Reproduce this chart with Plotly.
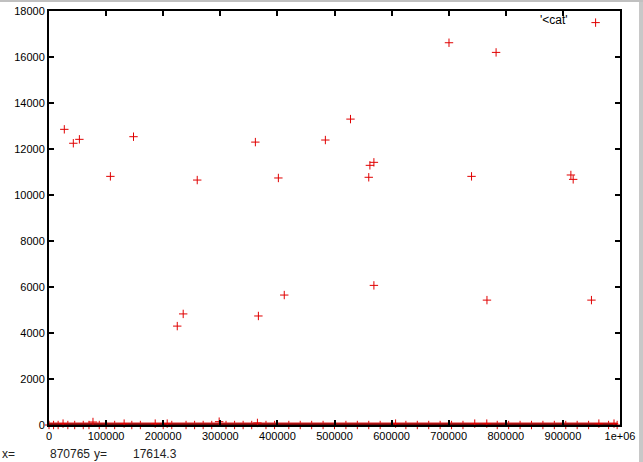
import plotly.graph_objects as go

# nonzero samples
x_vals = [26800, 42600, 53200, 107500, 148000, 77000, 224600, 235000, 259600,
          298000, 361400, 365000, 366700, 401700, 412000, 484000, 528000,
          560000, 562000, 569000, 569000, 700500, 740000, 767000, 783000,
          914000, 918000, 950000,
          24600, 131600, 186000, 207000, 607000, 745600, 766700, 963000, 989500]
y_vals = [12855, 12250, 12420, 10810, 12535, 130, 4300, 4830, 10650,
          145, 12300, 90, 4740, 10740, 5650, 12390, 13300,
          10770, 11290, 11420, 6070, 16620, 10810, 5430, 16200,
          10870, 10680, 5430,
          60, 60, 60, 60, 60, 60, 60, 60, 60]

# samples lying on zero (dense band along the x axis)
zero_x = [0, 8000, 16000, 33000, 45000, 60000, 70000, 88000, 100000,
          115000, 145000, 160000, 200000, 215000,
          240000, 255000, 270000, 285000, 310000, 325000, 340000,
          355000, 380000, 395000, 420000, 440000, 460000, 480000, 500000,
          520000, 540000, 560000, 580000, 625000, 645000, 665000,
          685000, 705000, 725000, 785000, 805000, 825000,
          845000, 865000, 885000, 905000, 925000, 945000, 980000, 995000]
zero_y = [0] * len(zero_x)

x_tickvals = [0, 100000, 200000, 300000, 400000, 500000, 600000, 700000, 800000, 900000, 1000000]
x_ticktext = ["0", "100000", "200000", "300000", "400000", "500000", "600000",
              "700000", "800000", "900000", "1e+06"]
y_tickvals = [0, 2000, 4000, 6000, 8000, 10000, 12000, 14000, 16000, 18000]
y_ticktext = [str(v) for v in y_tickvals]

legend_title = "'<cat'"
status = ["x=", "870765", "y=", "17614.3"]

FONT = "Liberation Sans"
MARK = dict(symbol="cross-thin", size=6, line=dict(color="#e00000", width=1))

W, H = 643, 462
L, T = 49, 11
PW, PH = 571, 414

fig = go.Figure()
fig.add_trace(go.Scatter(
    x=zero_x, y=zero_y, mode="markers", marker=MARK,
    showlegend=False, hoverinfo="skip", cliponaxis=False))
fig.add_trace(go.Scatter(
    x=zero_x, y=zero_y, mode="lines",
    line=dict(color="#e02020", width=5),
    showlegend=False, hoverinfo="skip", cliponaxis=False))
fig.add_trace(go.Scatter(
    x=zero_x, y=zero_y, mode="lines",
    line=dict(color="#7a0a0a", width=3),
    showlegend=False, hoverinfo="skip", cliponaxis=False))
fig.add_trace(go.Scatter(
    x=x_vals, y=y_vals, mode="markers", name=" ",
    marker=MARK, cliponaxis=False, showlegend=True))

axis_common = dict(showline=True, linecolor="black", linewidth=2, mirror="ticks",
                   ticks="inside", ticklen=5, tickwidth=2, tickcolor="black",
                   showgrid=False, zeroline=False, automargin=False,
                   tickfont=dict(family=FONT, size=11, color="black"))

fig.update_xaxes(range=[0, 1000000], tickvals=x_tickvals, ticktext=x_ticktext, **axis_common)
fig.update_yaxes(range=[0, 18000], tickvals=y_tickvals, ticktext=y_ticktext, **axis_common)

fig.update_layout(
    width=W, height=H,
    margin=dict(l=L, r=W - L - PW, t=T, b=H - T - PH, autoexpand=False),
    paper_bgcolor="white", plot_bgcolor="white",
    font=dict(family=FONT, size=11, color="black"),
    legend=dict(x=1.007, y=1.007, xanchor="right", yanchor="top",
                bgcolor="rgba(0,0,0,0)", borderwidth=0,
                title=dict(text=legend_title, side="left", font=dict(family=FONT, size=12)),
                itemwidth=30, font=dict(family=FONT, size=11)),
)

def px(xs):  # window pixel -> paper x
    return (xs - L) / PW
def py(ys):  # window pixel -> paper y
    return (T + PH - ys) / PH

# status bar text
for txt, xp in zip(status, [0, 48, 92, 131]):
    fig.add_annotation(text=txt, xref="paper", yref="paper", x=px(xp), y=py(445),
                       xanchor="left", yanchor="top", showarrow=False,
                       font=dict(family=FONT, size=12, color="#222"))

# window borders
fig.add_shape(type="rect", xref="paper", yref="paper", x0=px(639), x1=px(643), y0=py(462), y1=py(0),
              fillcolor="#c8c8c8", line=dict(width=0), layer="above")
fig.add_shape(type="rect", xref="paper", yref="paper", x0=px(0), x1=px(643), y0=py(2), y1=py(0),
              fillcolor="#c0c0c0", line=dict(width=0), layer="above")

fig.write_html("out.html", config={"displayModeBar": False},
               post_script="document.body.style.margin='0';document.body.style.overflow='hidden';")
